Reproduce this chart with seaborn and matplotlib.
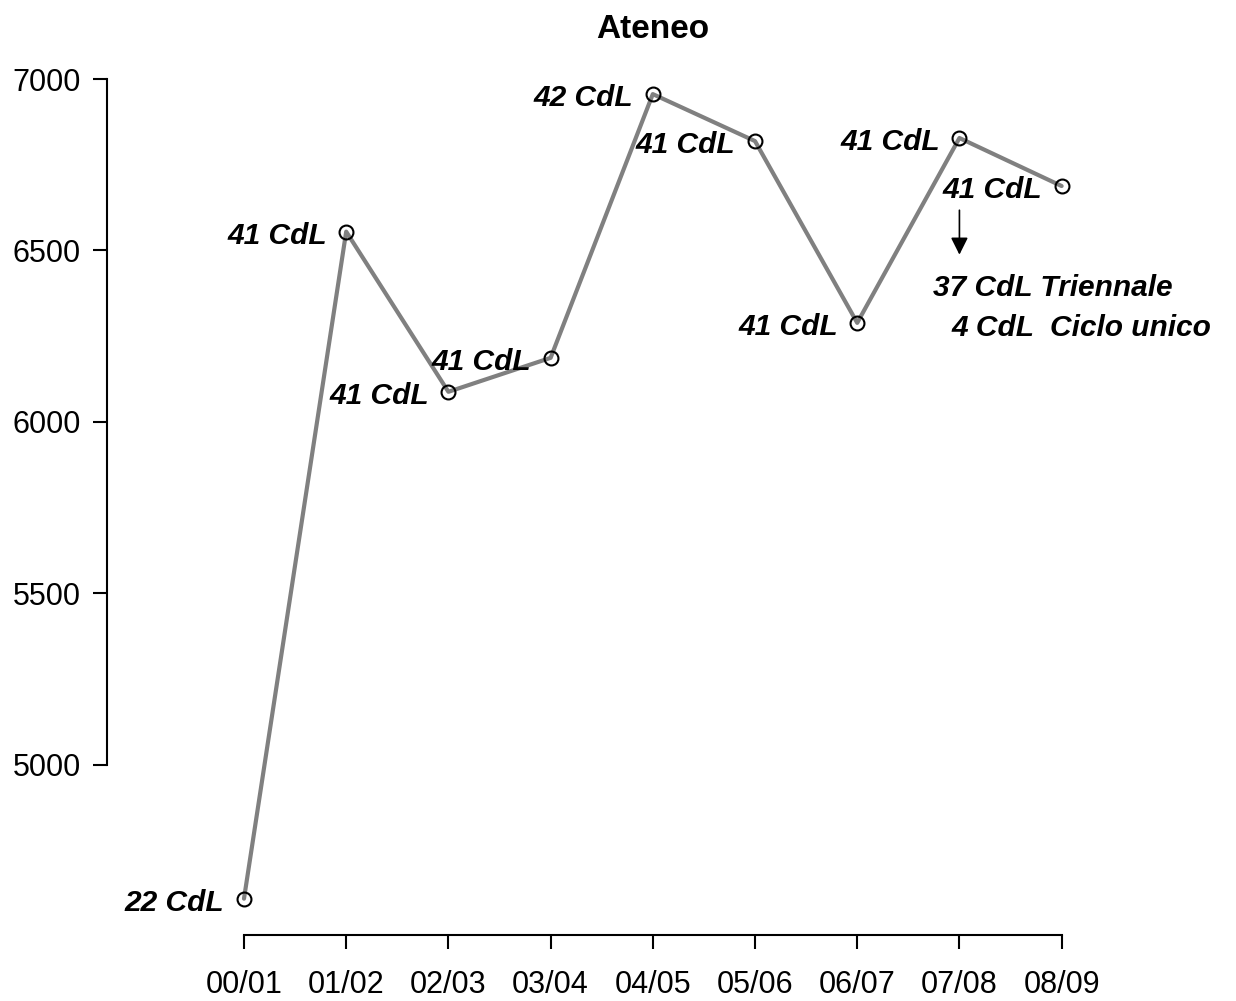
import matplotlib
matplotlib.use("Agg")
import matplotlib.pyplot as plt
import matplotlib.transforms as mtransforms
import seaborn as sns
import pandas as pd

# Data
years = ["00/01", "01/02", "02/03", "03/04", "04/05", "05/06", "06/07", "07/08", "08/09"]
students = [4610, 6555, 6088, 6187, 6956, 6819, 6289, 6828, 6688]
cdl_labels = ["22 CdL", "41 CdL", "41 CdL", "41 CdL", "42 CdL", "41 CdL", "41 CdL", "41 CdL", "41 CdL"]
yticks = [5000, 5500, 6000, 6500, 7000]

df = pd.DataFrame({"anno": years, "iscritti": students})

sns.set_style("white")
plt.rcParams['font.family'] = ['Liberation Sans', 'DejaVu Sans']
plt.rcParams['text.color'] = 'black'

fig = plt.figure(figsize=(12.36, 10.01), dpi=100)
ax = fig.add_axes([0.0866, 0.0659, 0.8054, 0.874])

sns.lineplot(data=df, x="anno", y="iscritti", ax=ax, color="#808080", linewidth=3,
             marker="o", markersize=10, markerfacecolor="none",
             markeredgecolor="black", markeredgewidth=1.5, sort=False)

ax.set_xlim(-1.34, 8.4)
ax.set_ylim(4504, 7055)

txt = dict(fontsize=21.5, fontweight="bold", fontstyle="italic", color="black")

# labels next to each point
for i, (lab, val) in enumerate(zip(cdl_labels, students)):
    ax.annotate(lab, (i, val), xytext=(-14, -3), textcoords="offset points",
                ha="right", va="center", **txt)

# note on the 07/08 point: arrow and detail
i7 = years.index("07/08")
start = mtransforms.offset_copy(ax.transData, fig=fig, x=0, y=-52, units="points")
end = mtransforms.offset_copy(ax.transData, fig=fig, x=0, y=-84, units="points")
ax.annotate("", xy=(i7, students[i7]), xycoords=end,
            xytext=(i7, students[i7]), textcoords=start,
            arrowprops=dict(arrowstyle="-|>", color="black", lw=1.2,
                            mutation_scale=26, shrinkA=0, shrinkB=0),
            annotation_clip=False)
ax.annotate("37 CdL Triennale", (i7, students[i7]), xytext=(-19, -108),
            textcoords="offset points", ha="left", va="center", **txt)
ax.annotate("4 CdL  Ciclo unico", (i7, students[i7]), xytext=(-6, -137),
            textcoords="offset points", ha="left", va="center", **txt)

ax.set_xticks(range(len(years)))
ax.set_xticklabels(years)
ax.set_yticks(yticks)
ax.set_yticklabels([str(t) for t in yticks])
ax.tick_params(axis="both", labelsize=22, length=10, width=1.5, direction="out",
               colors="black", left=True, bottom=True)
ax.tick_params(axis="x", pad=15)
ax.tick_params(axis="y", pad=9)

for s in ["top", "right"]:
    ax.spines[s].set_visible(False)
ax.spines["left"].set_bounds(5000, 7000)
ax.spines["bottom"].set_bounds(0, 8)
for s in ["left", "bottom"]:
    ax.spines[s].set_color("black")
    ax.spines[s].set_linewidth(1.5)

ax.set_xlabel("")
ax.set_ylabel("")
ax.grid(False)

# title centred over the categories
title_tr = mtransforms.blended_transform_factory(ax.transData, fig.transFigure)
ax.text(4, 1 - 29 / 1001, "Ateneo", transform=title_tr, ha="center", va="center",
        fontsize=24, fontweight="bold", color="black")

fig.savefig("out.png", dpi=100)
